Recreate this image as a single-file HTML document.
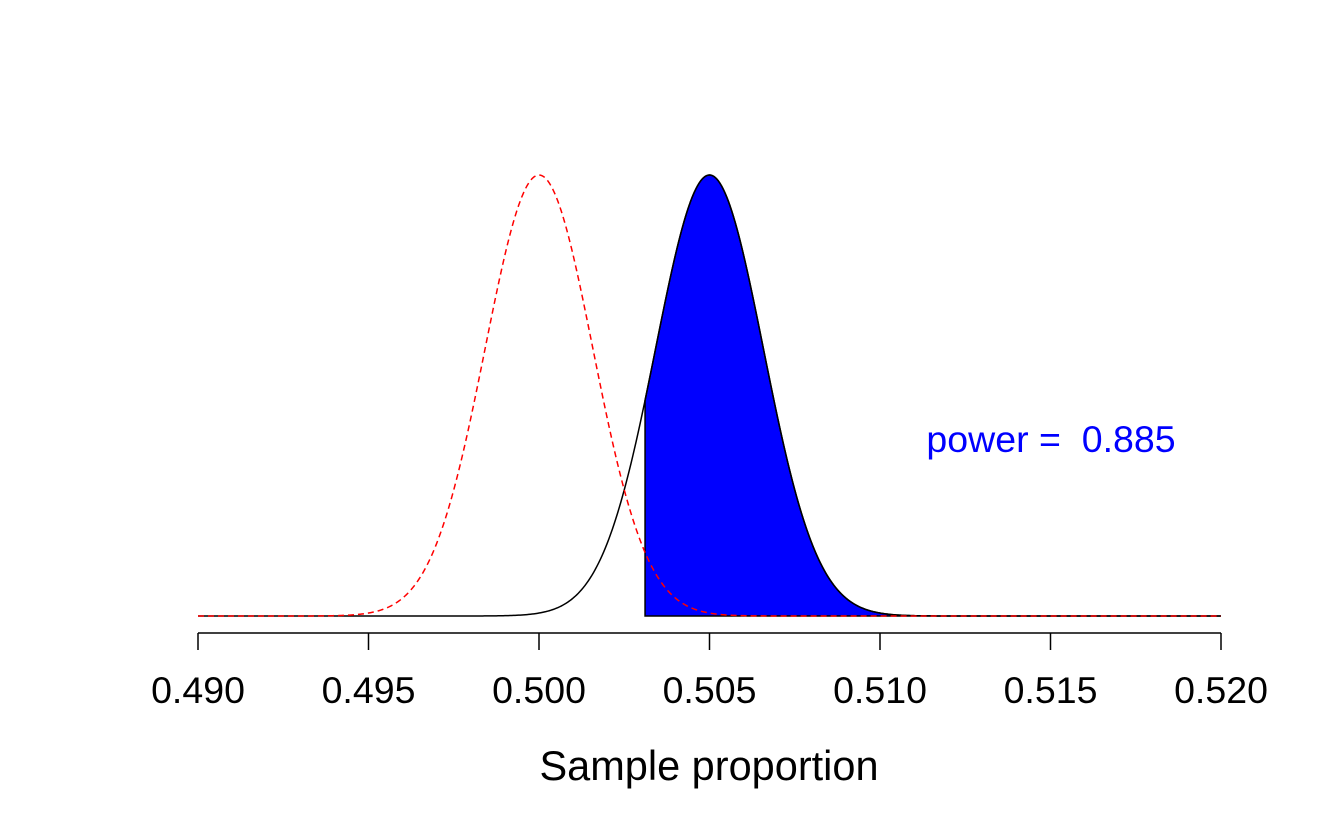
<!DOCTYPE html>
<html><head><meta charset="utf-8"><style>
html,body{margin:0;padding:0;background:#fff;}
svg{display:block;font-family:"Liberation Sans",Arial,sans-serif;}
</style></head><body>
<svg id="chart" width="1344" height="830" viewBox="0 0 1344 830">
<g id="plot"></g>
<g id="axis"></g>
<text x="709" y="780" font-size="41.5" text-anchor="middle">Sample proportion</text>
<text x="1051" y="452" font-size="37.5" fill="#0000ff" text-anchor="middle" style="white-space:pre">power =&#160; 0.885</text>
</svg>
<script>
const tickValues = [0.490, 0.495, 0.500, 0.505, 0.510, 0.515, 0.520];
const tickLabels = ["0.490", "0.495", "0.500", "0.505", "0.510", "0.515", "0.520"];
const nullMean = [0.500];
const altMean = [0.505];
const stdDev = [0.00158];
const criticalValue = [0.50311];
const xDomain = [0.490, 0.520];

const NS = "http://www.w3.org/2000/svg";
const x0 = 198, x1 = 1221, yBase = 616, yPeak = 175;
const xs = v => x0 + (v - xDomain[0]) / (xDomain[1] - xDomain[0]) * (x1 - x0);
const dens = (v, m, s) => Math.exp(-0.5 * ((v - m) / s) ** 2);
const ys = d => yBase - d * (yBase - yPeak);
const plot = document.getElementById('plot');
const axis = document.getElementById('axis');
function mk(tag, attrs, parent) {
  const e = document.createElementNS(NS, tag);
  for (const k in attrs) e.setAttribute(k, attrs[k]);
  parent.appendChild(e);
  return e;
}
const N = 600;
function curvePts(m, from, to) {
  const p = [];
  for (let i = 0; i <= N; i++) {
    const v = from + (to - from) * i / N;
    p.push(xs(v).toFixed(2) + "," + ys(dens(v, m, stdDev[0])).toFixed(2));
  }
  return p;
}
const shade = curvePts(altMean[0], criticalValue[0], xDomain[1]);
const area = mk('polygon', {points: xs(criticalValue[0]).toFixed(2) + "," + yBase + " " + shade.join(" ") + " " + xs(xDomain[1]) + "," + yBase, fill: '#0000ff', stroke: '#000', 'stroke-width': 1.5}, plot);


const alt = mk('polyline', {points: curvePts(altMean[0], xDomain[0], xDomain[1]).join(" "), fill: 'none', stroke: '#000', 'stroke-width': 1.5}, plot);


const nul = mk('polyline', {points: curvePts(nullMean[0], xDomain[0], xDomain[1]).join(" "), fill: 'none', stroke: '#ff0000', 'stroke-width': 1.5, 'stroke-dasharray': '6,4'}, plot);


const al = mk('line', {x1: xs(tickValues[0]), x2: xs(tickValues[tickValues.length-1]), y1: 633, y2: 633, stroke: '#000', 'stroke-width': 1.5}, axis);


tickValues.forEach((v, i) => {
  const t = mk('line', {x1: xs(v), x2: xs(v), y1: 633, y2: 650, stroke: '#000', 'stroke-width': 1.5}, axis);
  
  
  const l = mk('text', {x: xs(v), y: 703, 'font-size': 37.5, 'text-anchor': 'middle'}, axis);
  l.textContent = tickLabels[i];
  
  
});
</script>
</body></html>
